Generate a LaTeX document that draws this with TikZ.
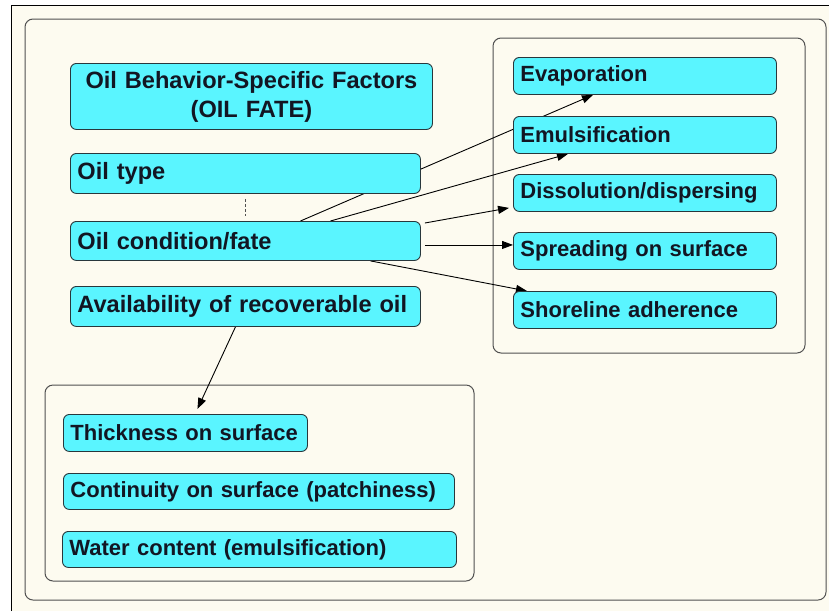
\documentclass[tikz,border=0pt]{standalone}
\usepackage{fontspec}
\setmainfont{Liberation Sans}
\usetikzlibrary{arrows.meta,positioning}
\definecolor{cream}{RGB}{253,251,240}
\definecolor{boxcyan}{RGB}{90,245,255}
\definecolor{boxline}{RGB}{40,55,60}
\definecolor{frameline}{RGB}{80,80,80}
\definecolor{inktext}{RGB}{18,22,35}
\pgfdeclarelayer{frames}
\pgfdeclarelayer{links}
\pgfsetlayers{frames,links,main}

\begin{document}
\begin{tikzpicture}
  [x=1pt,y=-1pt,
   factor/.style={draw=boxline,fill=boxcyan,rounded corners=6pt,line width=0.9pt,
     anchor=north west,inner xsep=7pt,inner ysep=0pt,minimum height=38pt,
     text width=#1,align=left,text=inktext,
     font=\bfseries\fontsize{22}{29}\selectfont},
   bigfactor/.style={factor=#1,font=\bfseries\fontsize{23.6}{29}\selectfont},
   group/.style={draw=frameline,fill=cream,rounded corners=8pt,line width=1pt},
   link/.style={line width=0.9pt,-{Triangle[length=11pt,width=8pt]}}]
  \useasboundingbox (0,0) rectangle (829,611);

  % left column
  \node[bigfactor=348pt,minimum height=66pt,align=center] (title) at (70,63)
    {Oil Behavior-Specific Factors\\(OIL FATE)};
  \node[bigfactor=336pt,minimum height=40pt] (otype) at (70,153) {Oil type};
  \node[bigfactor=336pt,minimum height=39pt] (ocond) at (70,221) {Oil condition/fate};
  \node[bigfactor=336pt,minimum height=40pt] (avail) at (70,286) {Availability of recoverable oil};

  % right group
  \node[factor=249pt,minimum height=37pt] (evap) at (513,57) {Evaporation};
  \node[factor=249pt,minimum height=37pt] (emul) at (513,116) {Emulsification};
  \node[factor=249pt,minimum height=37pt] (diss) at (513,174) {Dissolution/dispersing};
  \node[factor=249pt,minimum height=37pt] (spread) at (513,232) {Spreading on surface};
  \node[factor=249pt,minimum height=37pt] (shore) at (513,291) {Shoreline adherence};

  % bottom group
  \node[factor=230pt,minimum height=37pt] (thick) at (63,414) {Thickness on surface};
  \node[factor=377pt,minimum height=36pt] (contin) at (63,473) {Continuity on surface (patchiness)};
  \node[factor=380pt,minimum height=36pt] (water) at (62,531) {Water content (emulsification)};

  \begin{pgfonlayer}{links}
    \draw[link] ([xshift=55pt]ocond.north) -- ([xshift=-52pt]evap.south);
    \draw[link] ([xshift=85pt]ocond.north) -- ([xshift=-77pt]emul.south);
    \draw[link] ([xshift=4pt,yshift=-2pt]ocond.north east) -- ([xshift=-4pt,yshift=4pt]diss.south west);
    \draw[link] ([xshift=4pt,yshift=-4pt]ocond.east) -- ([yshift=6pt]spread.west);
    \draw[link] ([xshift=125pt]ocond.south) -- ([xshift=14pt]shore.north west);
    \draw[link] ([xshift=-10pt]avail.south) -- ([xshift=12pt,yshift=5pt]thick.north);
    \draw[frameline,line width=0.9pt,dash pattern=on 3pt off 2pt,
      shorten <=5pt,shorten >=5pt] (otype) -- (ocond);
  \end{pgfonlayer}

  \begin{pgfonlayer}{frames}
    \fill[cream] (11,5) rectangle (829,611);
    \draw[black,line width=1pt] (11,611) -- (11,5) -- (829,5);
    \draw[group] (25,19) rectangle (826,600);
    \draw[group] (493,38) rectangle (805,353);
    \draw[group] (45,385) rectangle (474,581);
  \end{pgfonlayer}
\end{tikzpicture}
\end{document}
